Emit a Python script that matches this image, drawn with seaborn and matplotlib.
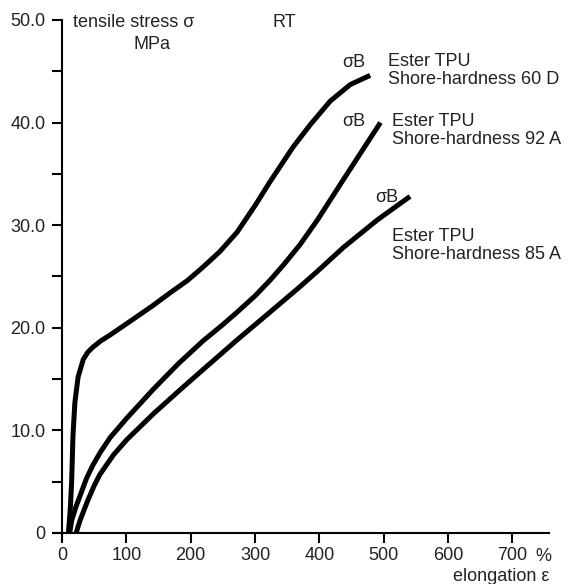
from matplotlib import pyplot as plt
from matplotlib.ticker import MultipleLocator
import pandas as pd
import seaborn as sns

# stress-strain curves (elongation in %, stress in MPa)
elong_60d = [10, 13, 15, 17, 20, 25, 33, 40, 48, 60, 75, 110, 140, 168, 195, 219,
             245, 272, 300, 323, 359, 386, 417, 448, 465, 479]
stress_60d = [0, 2.5, 5.0, 9.4, 12.7, 15.2, 16.9, 17.6, 18.1, 18.7, 19.3, 20.8,
              22.1, 23.4, 24.6, 25.9, 27.4, 29.3, 31.9, 34.2, 37.6, 39.8, 42.1,
              43.7, 44.2, 44.6]

elong_92a = [12, 15, 22, 28, 38, 48, 60, 75, 101, 142, 181, 219, 250, 272, 300,
             323, 344, 370, 397, 437, 468, 495]
stress_92a = [0, 1.2, 2.6, 3.6, 5.3, 6.6, 7.9, 9.3, 11.2, 14.0, 16.5, 18.7, 20.3,
              21.5, 23.1, 24.6, 26.1, 28.1, 30.5, 34.4, 37.4, 40.0]

elong_85a = [22, 28, 39, 50, 59, 80, 101, 142, 181, 219, 272, 323, 370, 397, 437,
             490, 541]
stress_85a = [0, 1.2, 3.0, 4.6, 5.7, 7.6, 9.1, 11.6, 13.8, 15.9, 18.8, 21.5, 24.0,
              25.5, 27.8, 30.5, 32.8]

grades = ["60 D", "92 A", "85 A"]
x_ticks = [0, 100, 200, 300, 400, 500, 600, 700]
y_ticks = [0, 10, 20, 30, 40, 50]
y_tick_labels = ["0", "10.0", "20.0", "30.0", "40.0", "50.0"]


def get_df():
    """
    Collect curves into one long table
    """
    parts = []
    for g, x, y in zip(grades, [elong_60d, elong_92a, elong_85a],
                       [stress_60d, stress_92a, stress_85a]):
        parts.append(pd.DataFrame({'elongation': x, 'stress': y, 'grade': g}))
    return pd.concat(parts, ignore_index=True)


def tpu_plot(df: pd.DataFrame, fig_location: str = None):
    """
    Plot tensile stress vs elongation for ester TPU grades
    """
    sns.set_style('white')
    plt.rcParams['font.family'] = ['Liberation Sans', 'DejaVu Sans']
    fs = 13

    fig = plt.figure(figsize=(5.74, 5.84), dpi=100)
    ax = fig.add_axes([53 / 574, 44 / 584, 496 / 574, 520 / 584])

    sns.lineplot(data=df, x='elongation', y='stress', hue='grade', units='grade',
                 estimator=None, sort=False, palette=['black'] * 3,
                 linewidth=3.6, legend=False, ax=ax,
                 solid_joinstyle='round', solid_capstyle='butt')

    ax.set_xlim(-14, 757)
    ax.set_ylim(-0.7, 50)
    for s in ['top', 'right']:
        ax.spines[s].set_visible(False)
    for s in ['left', 'bottom']:
        ax.spines[s].set_position(('data', 0))
        ax.spines[s].set_linewidth(1.5)
        ax.spines[s].set_color('black')

    ax.set_xticks(x_ticks)
    ax.set_yticks(y_ticks)
    ax.set_yticklabels(y_tick_labels)
    ax.yaxis.set_minor_locator(MultipleLocator(5))
    ax.tick_params(axis='both', which='both', direction='out', length=7,
                   width=1.5, color='black', labelsize=fs, labelcolor='#222222',
                   bottom=True, left=True)
    ax.tick_params(axis='y', which='both', pad=5)
    ax.tick_params(axis='x', pad=3)
    ax.set_xlabel('')
    ax.set_ylabel('')

    txt = dict(fontsize=fs, color='#222222', clip_on=False)
    ax.text(17, 49.8, 'tensile stress σ', ha='left', va='center', **txt)
    ax.text(140, 47.6, 'MPa', ha='center', va='center', **txt)
    ax.text(345, 49.8, 'RT', ha='center', va='center', **txt)
    ax.text(748, -2.3, '%', ha='center', va='center', **txt)
    ax.text(757, -4.3, 'elongation ε', ha='right', va='center', **txt)

    ax.text(453, 45.9, 'σB', ha='center', va='center', **txt)
    ax.text(507, 45.1, 'Ester TPU\nShore-hardness 60 D', ha='left', va='center',
            linespacing=1.05, **txt)
    ax.text(453, 40.1, 'σB', ha='center', va='center', **txt)
    ax.text(513, 39.2, 'Ester TPU\nShore-hardness 92 A', ha='left', va='center',
            linespacing=1.05, **txt)
    ax.text(505, 32.7, 'σB', ha='center', va='center', **txt)
    ax.text(513, 28.0, 'Ester TPU\nShore-hardness 85 A', ha='left', va='center',
            linespacing=1.05, **txt)

    if fig_location:
        fig.savefig(fig_location, dpi=100)


if __name__ == "__main__":
    df = get_df()
    tpu_plot(df, 'out.png')
